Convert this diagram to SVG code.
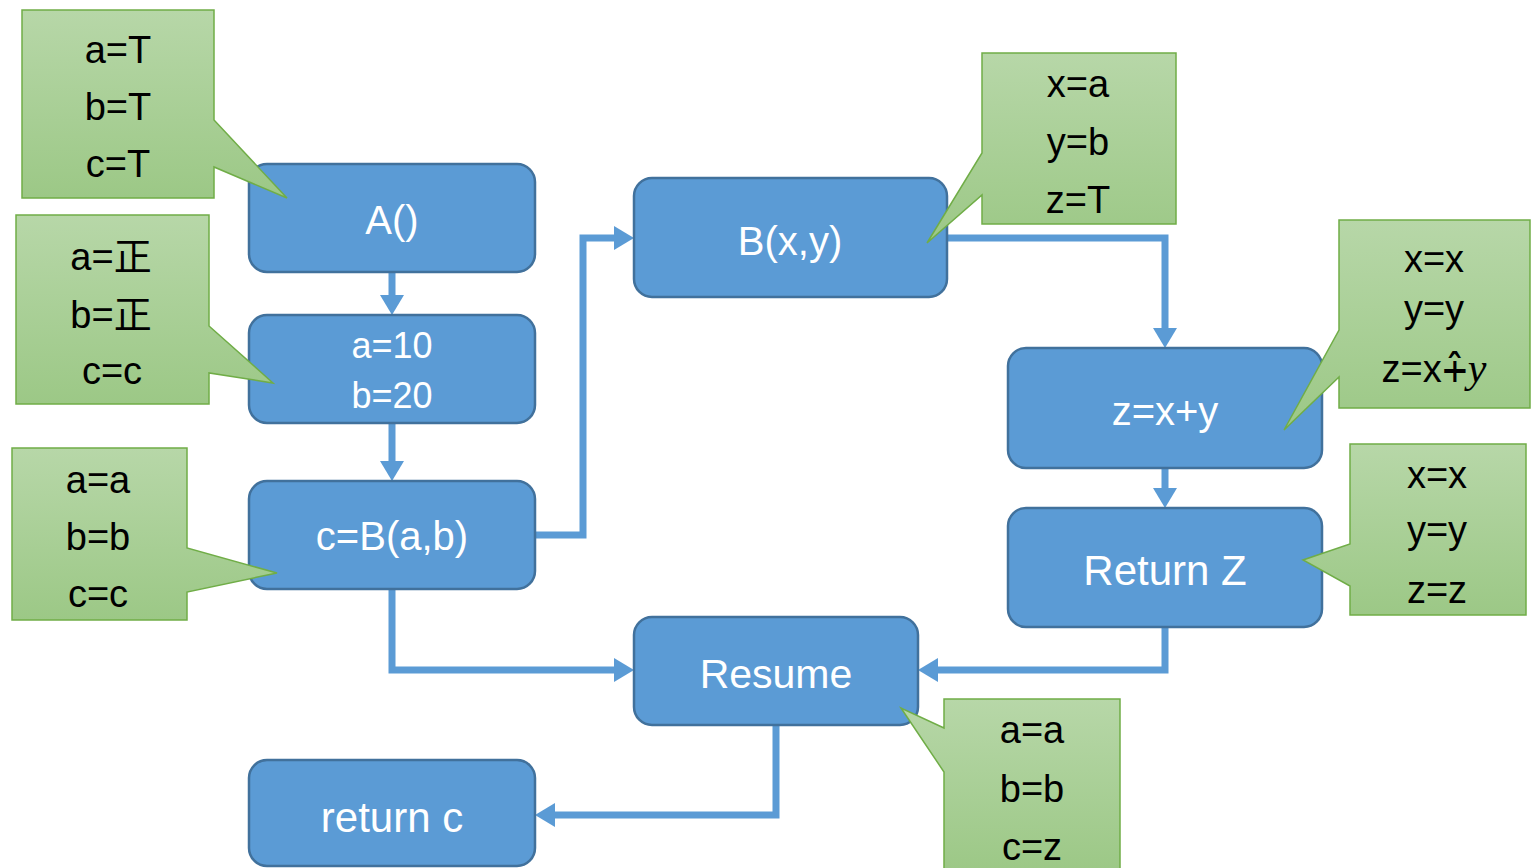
<svg xmlns="http://www.w3.org/2000/svg" width="1531" height="868" viewBox="0 0 1531 868">
<style>
.node rect{fill:#5B9BD5;stroke:#41719C;stroke-width:2.5}
.node text{fill:#FFFFFF;font-family:"Liberation Sans",Arial,sans-serif;font-size:40px;text-anchor:middle}
.call path{fill:url(#g);stroke:#70AD47;stroke-width:1.5}
.call text{fill:#000000;font-family:"Liberation Sans",Arial,"Noto Sans CJK SC",sans-serif;font-size:38px;text-anchor:middle}
.conn path{fill:none;stroke:#5B9BD5;stroke-width:7;marker-end:url(#ah)}
</style>
<defs>
<linearGradient id="g" x1="0" y1="0" x2="0" y2="1">
<stop offset="0" stop-color="#B7D7A8"/>
<stop offset="1" stop-color="#9CC886"/>
</linearGradient>
<marker id="ah" viewBox="0 0 20 24" refX="6" refY="12" markerWidth="20" markerHeight="24" markerUnits="userSpaceOnUse" orient="auto">
<path d="M0,0 L20,12 L0,24 Z" fill="#5B9BD5"/>
</marker>
</defs>
<rect width="1531" height="868" fill="#FFFFFF"/>
<g id="connectors" class="conn">
<path d="M392,272 V301"/>
<path d="M392,423 V467"/>
<path d="M535,535 H583 V238 H620"/>
<path d="M947,238 H1165 V334"/>
<path d="M1165,468 V494"/>
<path d="M1165,627 V670 H932"/>
<path d="M392,589 V670 H620"/>
<path d="M776,725 V815 H549"/>
</g>
<g id="nodeA" class="node"><rect x="249" y="164" width="286" height="108" rx="18"/><text x="392" y="234">A()</text></g>
<g id="nodeAssign" class="node"><rect x="249" y="315" width="286" height="108" rx="18"/><text x="392" y="358" style="font-size:36px">a=10</text><text x="392" y="408" style="font-size:36px">b=20</text></g>
<g id="nodeCall" class="node"><rect x="249" y="481" width="286" height="108" rx="18"/><text x="392" y="550">c=B(a,b)</text></g>
<g id="nodeB" class="node"><rect x="634" y="178" width="313" height="119" rx="18"/><text x="790" y="255">B(x,y)</text></g>
<g id="nodeZ" class="node"><rect x="1008" y="348" width="314" height="120" rx="18"/><text x="1165" y="425">z=x+y</text></g>
<g id="nodeReturnZ" class="node"><rect x="1008" y="508" width="314" height="119" rx="18"/><text x="1165" y="585" style="font-size:42px">Return Z</text></g>
<g id="nodeResume" class="node"><rect x="634" y="617" width="284" height="108" rx="18"/><text x="776" y="688" style="font-size:41px">Resume</text></g>
<g id="nodeReturnC" class="node"><rect x="249" y="760" width="286" height="106" rx="18"/><text x="392" y="832" style="font-size:42px">return c</text></g>
<g id="callout1" class="call"><path d="M22,10 H214 V120 L287,198 L214,167 V198 H22 Z"/><text x="118" y="63">a=T</text><text x="118" y="120">b=T</text><text x="118" y="177">c=T</text></g>
<g id="callout2" class="call"><path d="M16,215 H209 V326 L273,383 L209,373 V404 H16 Z"/><text x="111" y="270">a=正</text><text x="111" y="328">b=正</text><text x="112" y="384">c=c</text></g>
<g id="callout3" class="call"><path d="M12,448 H187 V548 L277,573 L187,592 V620 H12 Z"/><text x="98" y="493">a=a</text><text x="98" y="550">b=b</text><text x="98" y="607">c=c</text></g>
<g id="callout4" class="call"><path d="M982,53 H1176 V224 H982 V195 L927,243 L982,153 Z"/><text x="1078" y="97">x=a</text><text x="1078" y="155">y=b</text><text x="1078" y="213">z=T</text></g>
<g id="callout5" class="call"><path d="M1339,220 H1530 V408 H1339 V377 L1284,430 L1339,330 Z"/><text x="1434" y="272">x=x</text><text x="1434" y="322">y=y</text><text x="1434" y="382">z=x<tspan style="font-family:'DejaVu Sans',sans-serif;font-size:44px">⨣</tspan><tspan style="font-family:'Liberation Serif',serif;font-style:italic;font-size:42px">y</tspan></text></g>
<g id="callout6" class="call"><path d="M1350,444 H1526 V615 H1350 V586 L1303,560 L1350,544 Z"/><text x="1437" y="488">x=x</text><text x="1437" y="543">y=y</text><text x="1437" y="603">z=z</text></g>
<g id="callout7" class="call"><path d="M944,699 H1120 V872 H944 V772 L901,708 L944,728 Z"/><text x="1032" y="743">a=a</text><text x="1032" y="802">b=b</text><text x="1032" y="860">c=z</text></g>
</svg>
